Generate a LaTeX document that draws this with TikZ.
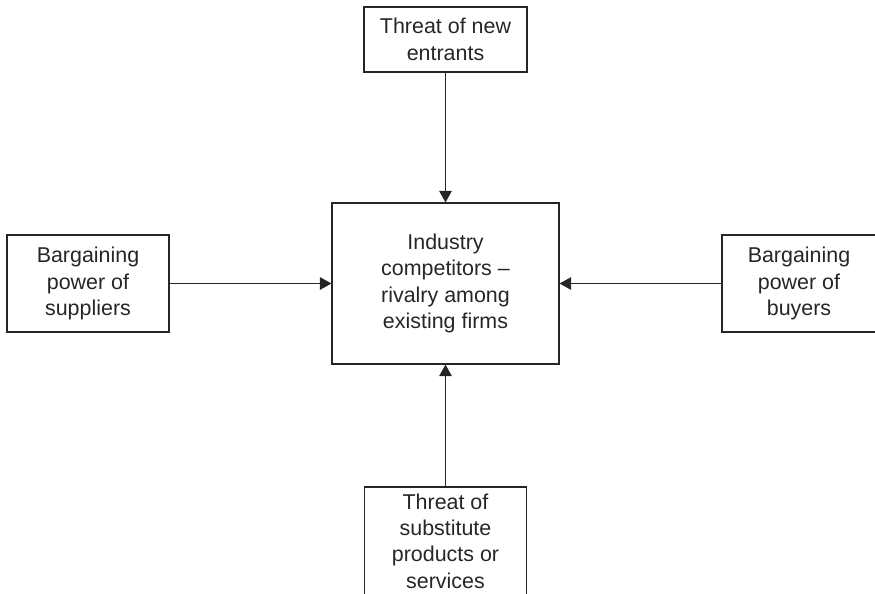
\documentclass[tikz,border=0pt]{standalone}
\usepackage{fontspec}
\setmainfont{Liberation Sans}
\usetikzlibrary{arrows.meta}
\tikzset{
 force/.style={draw=black!85,line width=0.7pt,align=center,inner sep=0pt,
  text=black!85,font=\fontsize{12.2}{15}\selectfont},
 push/.style={draw=black!85,line width=0.7pt,-{Triangle[length=6.6pt,width=7.2pt]}}
}
\begin{document}
\begin{tikzpicture}[x=0.02cm,y=-0.02cm]
 \clip (0,0) rectangle (875,593); 
 \node[force,minimum width=3.26cm,minimum height=1.30cm](entrants) at (445.5,39.5) {Threat of new\\entrants}; 
 \node[force,minimum width=4.54cm,minimum height=3.22cm](rivalry) at (445.5,283.5) {Industry\\competitors --\\rivalry among\\existing firms}; 
 \node[force,minimum width=3.24cm,minimum height=1.94cm](suppliers) at (88,283.5) {Bargaining\\power of\\suppliers}; 
 \node[force,minimum width=3.08cm,minimum height=1.94cm](buyers) at (799,283.5) {Bargaining\\power of\\buyers}; 
 \node[force,minimum width=3.24cm,minimum height=2.16cm](substitutes) at (445.5,541) {Threat of\\substitute\\products or\\services}; 
 \draw[push](entrants)--(rivalry); 
 \draw[push](suppliers)--(rivalry); 
 \draw[push](buyers)--(rivalry); 
 \draw[push](substitutes)--(rivalry); 
\end{tikzpicture}
\end{document}
